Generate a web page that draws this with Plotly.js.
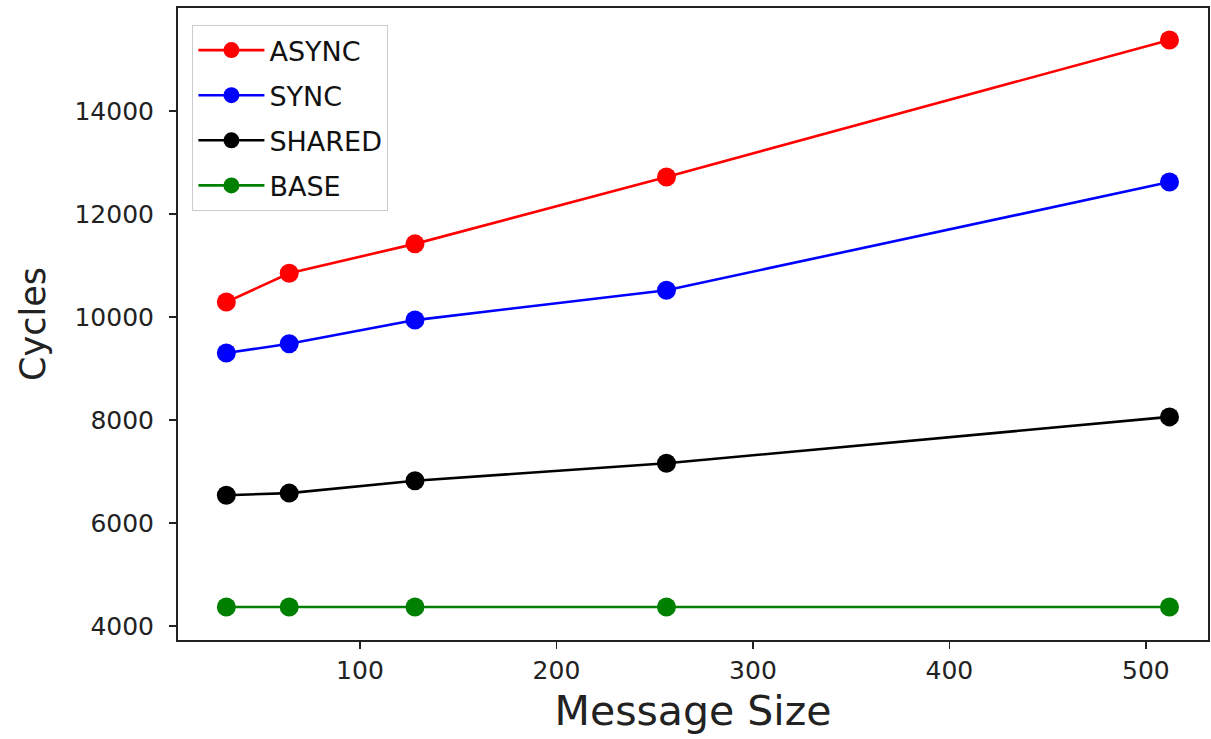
<!DOCTYPE html>
<html>
<head>
<meta charset="utf-8">
<script src="https://cdn.plot.ly/plotly-3.0.1.min.js"></script>
<style>html,body{margin:0;padding:0;background:#fff;}#chart{width:1211px;height:739px;}</style>
</head>
<body>
<div id="chart"></div>
<script>
const messageSizes = [32, 64, 128, 256, 512];
const asyncCycles = [10290, 10850, 11420, 12720, 15380];
const syncCycles = [9300, 9480, 9940, 10520, 12620];
const sharedCycles = [6540, 6580, 6820, 7160, 8060];
const baseCycles = [4370, 4370, 4370, 4370, 4370];
const seriesNames = ["ASYNC", "SYNC", "SHARED", "BASE"];
const seriesColors = ["#ff0000", "#0000ff", "#000000", "#008000"];
const seriesValues = [asyncCycles, syncCycles, sharedCycles, baseCycles];
const xTicks = [100, 200, 300, 400, 500];
const yTicks = [4000, 6000, 8000, 10000, 12000, 14000];

const traces = seriesNames.map((name, i) => ({
  x: messageSizes,
  y: seriesValues[i],
  name: name,
  legendgroup: name,
  type: "scatter",
  mode: "lines+markers",
  line: {color: seriesColors[i], width: 2.6},
  marker: {color: seriesColors[i], size: 19}
}));

const font = "DejaVu Sans, sans-serif";
const layout = {
  width: 1211, height: 739,
  margin: {l: 178, r: 3, t: 8, b: 99},
  paper_bgcolor: "#fff", plot_bgcolor: "#fff",
  font: {family: font, color: "#222"},
  showlegend: true,
  legend: {
    x: 0.014, y: 0.973, xanchor: "left", yanchor: "top",
    bgcolor: "rgba(255,255,255,0.9)", bordercolor: "#cccccc", borderwidth: 1,
    font: {family: font, size: 27, color: "#111"},
    traceorder: "grouped", tracegroupgap: 7,
    itemwidth: 66
  },
  xaxis: {
    range: [7.4, 531.6],
    tickvals: xTicks,
    tickformat: "d",
    ticks: "outside", ticklen: 7, tickwidth: 1.5, tickcolor: "#222",
    showline: true, linecolor: "#222", linewidth: 2, mirror: true,
    showgrid: false, zeroline: false,
    tickfont: {family: font, size: 25, color: "#222"},
    title: {text: "Message Size", font: {family: font, size: 41, color: "#222"}, standoff: 12}
  },
  yaxis: {
    range: [3728, 16000],
    tickvals: yTicks,
    tickformat: "d",
    ticks: "outside", ticklen: 7, tickwidth: 1.5, tickcolor: "#222",
    ticklabelstandoff: 10,
    showline: true, linecolor: "#222", linewidth: 2, mirror: true,
    showgrid: false, zeroline: false,
    tickfont: {family: font, size: 25, color: "#222"},
    title: {text: "Cycles", font: {family: font, size: 35, color: "#222"}, standoff: 18}
  }
};

Plotly.newPlot("chart", traces, layout, {displayModeBar: false, staticPlot: true});
</script>
</body>
</html>
